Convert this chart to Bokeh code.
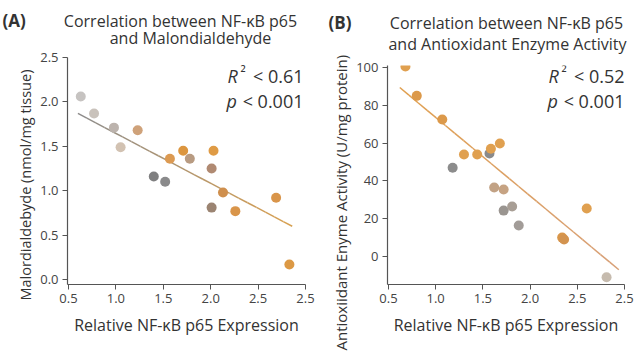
import numpy as np
from bokeh.plotting import figure
from bokeh.layouts import row, column
from bokeh.models import Label, FixedTicker, Range1d, Title
from bokeh.embed import file_html
from bokeh.resources import INLINE

# ---------------- data ----------------
x_ticks = [0.5, 1.0, 1.5, 2.0, 2.5, 3.0]
x_tick_labels = ["0.5", "1.0", "1.5", "2.0", "2.5", "2.5"]

a_x = [0.63, 0.77, 0.98, 1.05, 1.23, 1.40, 1.52, 1.57, 1.71, 1.78, 2.01, 2.03, 2.13, 2.01, 2.26, 2.69, 2.83]
a_y = [2.06, 1.87, 1.71, 1.49, 1.68, 1.16, 1.10, 1.36, 1.45, 1.36, 1.25, 1.45, 0.98, 0.81, 0.77, 0.92, 0.17]
a_fit_x = [0.60, 2.86]
a_fit_y = [1.87, 0.60]
a_y_ticks = [0.0, 0.5, 1.0, 1.5, 2.0, 2.5]
a_y_tick_labels = ["0.0", "0.5", "1.0", "1.5", "2.0", "2.5"]

b_x = [0.68, 0.80, 1.07, 1.30, 1.44, 1.57, 1.585, 1.68, 1.18, 1.62, 1.72, 1.72, 1.81, 1.88, 2.34, 2.36, 2.60, 2.81]
b_y = [100.5, 85.0, 72.5, 54.0, 54.0, 54.5, 57.0, 59.8, 47.0, 36.5, 35.5, 24.3, 26.5, 16.4, 10.0, 9.0, 25.4, -11.0]
b_fit_x = [0.62, 2.94]
b_fit_y = [89.4, -7.0]
b_y_ticks = [0, 20, 40, 60, 80, 100]
b_y_tick_labels = ["0", "20", "40", "60", "80", "100"]

# ---------------- style ----------------
a_colors = ["#c6c3c1", "#c9c2bb", "#bcb3ad", "#d2c2b2", "#cfa27a", "#7f7f80", "#8a8a8b",
            "#dc9a52", "#dc963f", "#b89b82", "#b08a72", "#df9b45", "#cf8f4d", "#9b8472",
            "#d9954a", "#d9954a", "#dc9945"]
b_colors = ["#e0a050", "#dc994a", "#dc994a", "#e0a050", "#e0a050", "#8a8a8b", "#e0a050",
            "#e0a050", "#8c8c8c", "#c2a285", "#c6a383", "#9a9590", "#a89e95", "#a29c98",
            "#d9964a", "#d3934f", "#e0a050", "#c6bbae"]

FONT = "Open Sans"
TXT = "#333333"
W = 317
PAGE_H = 354
FRAME_BOTTOM = 284          # page y of both x axes


def hex2rgb(h):
    h = h.lstrip("#")
    return np.array([int(h[i:i + 2], 16) for i in (0, 2, 4)], dtype=float)


def grad_line(p, xs, ys, c0, c1, n=24, width=1.5):
    t = np.linspace(0, 1, n + 1)
    gx = xs[0] + (xs[1] - xs[0]) * t
    gy = ys[0] + (ys[1] - ys[0]) * t
    r0, r1 = hex2rgb(c0), hex2rgb(c1)
    cols = []
    for k in range(n):
        m = (k + 0.5) / n
        c = r0 + (r1 - r0) * m
        cols.append("#%02x%02x%02x" % tuple(int(round(v)) for v in c))
    p.multi_line([[gx[k], gx[k + 1]] for k in range(n)],
                 [[gy[k], gy[k + 1]] for k in range(n)],
                 line_color=cols, line_width=width)


def title_fig(h, items):
    t = figure(width=W, height=h, x_range=Range1d(0, W), y_range=Range1d(h, 0),
               output_backend="svg", toolbar_location=None,
               x_axis_type=None, y_axis_type=None, frame_align=False,
               min_border=0, min_border_left=0, min_border_right=0,
               min_border_top=0, min_border_bottom=0)
    t.outline_line_color = None
    t.grid.visible = False
    for (x, y, text, align, style, size) in items:
        t.add_layout(Label(x=x, y=y, text=text, text_align=align, text_baseline="middle",
                           text_font=FONT, text_font_size=size, text_font_style=style,
                           text_color=TXT))
    return t


def make_panel(title_h, fl, fr, frame_top, xr, yr, xs, ys, cols, fx, fy, c0, c1,
               yticks, ylabels, ylabel, ylab_size, ylab_offset, ylab_standoff):
    plot_h = PAGE_H - title_h
    fb = plot_h - (FRAME_BOTTOM - title_h)
    p = figure(width=W, height=plot_h, x_range=Range1d(*xr), y_range=Range1d(*yr),
               output_backend="svg", toolbar_location=None, frame_align=False,
               min_border_left=fl, min_border_right=fr,
               min_border_top=frame_top - title_h, min_border_bottom=fb)
    p.outline_line_color = None
    p.grid.visible = False
    grad_line(p, fx, fy, c0, c1)
    p.scatter(xs, ys, size=10, fill_color=cols, line_color=None)
    for ax in (p.xaxis[0], p.yaxis[0]):
        ax.axis_line_color = "#555555"
        ax.axis_line_width = 1.2
        ax.major_tick_line_color = "#555555"
        ax.major_tick_out = 5
        ax.major_tick_in = 0
        ax.minor_tick_line_color = None
        ax.major_label_text_font = FONT
        ax.major_label_text_font_size = "13px"
        ax.major_label_text_color = "#444444"
        ax.axis_label_text_font = FONT
        ax.axis_label_text_font_style = "normal"
        ax.axis_label_text_color = TXT
    p.xaxis.ticker = FixedTicker(ticks=x_ticks)
    p.xaxis.major_label_overrides = {t: l for t, l in zip(x_ticks, x_tick_labels)}
    p.xaxis.major_label_standoff = 4
    p.xaxis.axis_label = "Relative NF-\u03baB p65 Expression"
    p.xaxis.axis_label_text_font_size = "16px"
    p.xaxis.axis_label_standoff = 8
    p.yaxis.ticker = FixedTicker(ticks=yticks)
    p.yaxis.major_label_overrides = {t: l for t, l in zip(yticks, ylabels)}
    p.yaxis.major_label_standoff = 4
    # y axis title as a side Title: starts ylab_offset px below the frame bottom
    p.add_layout(Title(text=ylabel, align="left", offset=ylab_offset, standoff=ylab_standoff,
                       text_font=FONT, text_font_size=ylab_size, text_font_style="normal",
                       text_color=TXT), "left")
    return p


def add_text(p, frame_left_page, px, py, text, align="left", style="normal", size="18px"):
    # px, py: page pixels; Label screen units are frame-relative (from bottom-left)
    p.add_layout(Label(x=px - frame_left_page, y=FRAME_BOTTOM - py, x_units="screen",
                       y_units="screen", text=text, text_align=align, text_baseline="middle",
                       text_font=FONT, text_font_size=size, text_font_style=style,
                       text_color=TXT))


# ---------------- Panel A (page x 0..317) ----------------
TA_H = 48
ta = title_fig(TA_H, [
    (2, 20, "(A)", "left", "bold", "17px"),
    (180, 20, "Correlation between NF-\u03baB p65", "center", "normal", "16px"),
    (190, 37.5, "and Malondialdehyde", "center", "normal", "16px"),
])
pa = make_panel(TA_H, 67, 12, 57, (0.49, 3.0), (-0.056, 2.5), a_x, a_y, a_colors,
                a_fit_x, a_fit_y, "#8c8c8c", "#d9a050", a_y_ticks, a_y_tick_labels,
                "Malordialdebyde (nmol/mg tissue)", "14.5px", -16, 5)
add_text(pa, 67, 227, 75, "R", style="italic")
add_text(pa, 67, 240, 71, "\u00b2", size="15px")
add_text(pa, 67, 303, 75, "< 0.61", align="right")
add_text(pa, 67, 226, 100, "p", style="italic")
add_text(pa, 67, 303, 100, "< 0.001", align="right")

# ---------------- Panel B (page x 317..634) ----------------
TB_H = 54
tb = title_fig(TB_H, [
    (11, 22, "(B)", "left", "bold", "17px"),
    (189, 22, "Correlation between NF-\u03baB p65", "center", "normal", "16px"),
    (190, 43, "and Antioxidant Enzyme Activity", "center", "normal", "16px"),
])
pb = make_panel(TB_H, 70, 10, 65, (0.49, 3.0), (-14.8, 101.06), b_x, b_y, b_colors,
                b_fit_x, b_fit_y, "#e0a050", "#d8a078", b_y_ticks, b_y_tick_labels,
                "Antioxiidant Enyme Activity (U/mg protein)", "15px", -66, 5)
add_text(pb, 387, 548, 75, "R", style="italic")
add_text(pb, 387, 561, 71, "\u00b2", size="15px")
add_text(pb, 387, 624, 75, "< 0.52", align="right")
add_text(pb, 387, 547, 100, "p", style="italic")
add_text(pb, 387, 624, 100, "< 0.001", align="right")

layout = row(column(ta, pa, spacing=0), column(tb, pb, spacing=0), spacing=0)
open("out.html", "w").write(file_html(layout, INLINE))
